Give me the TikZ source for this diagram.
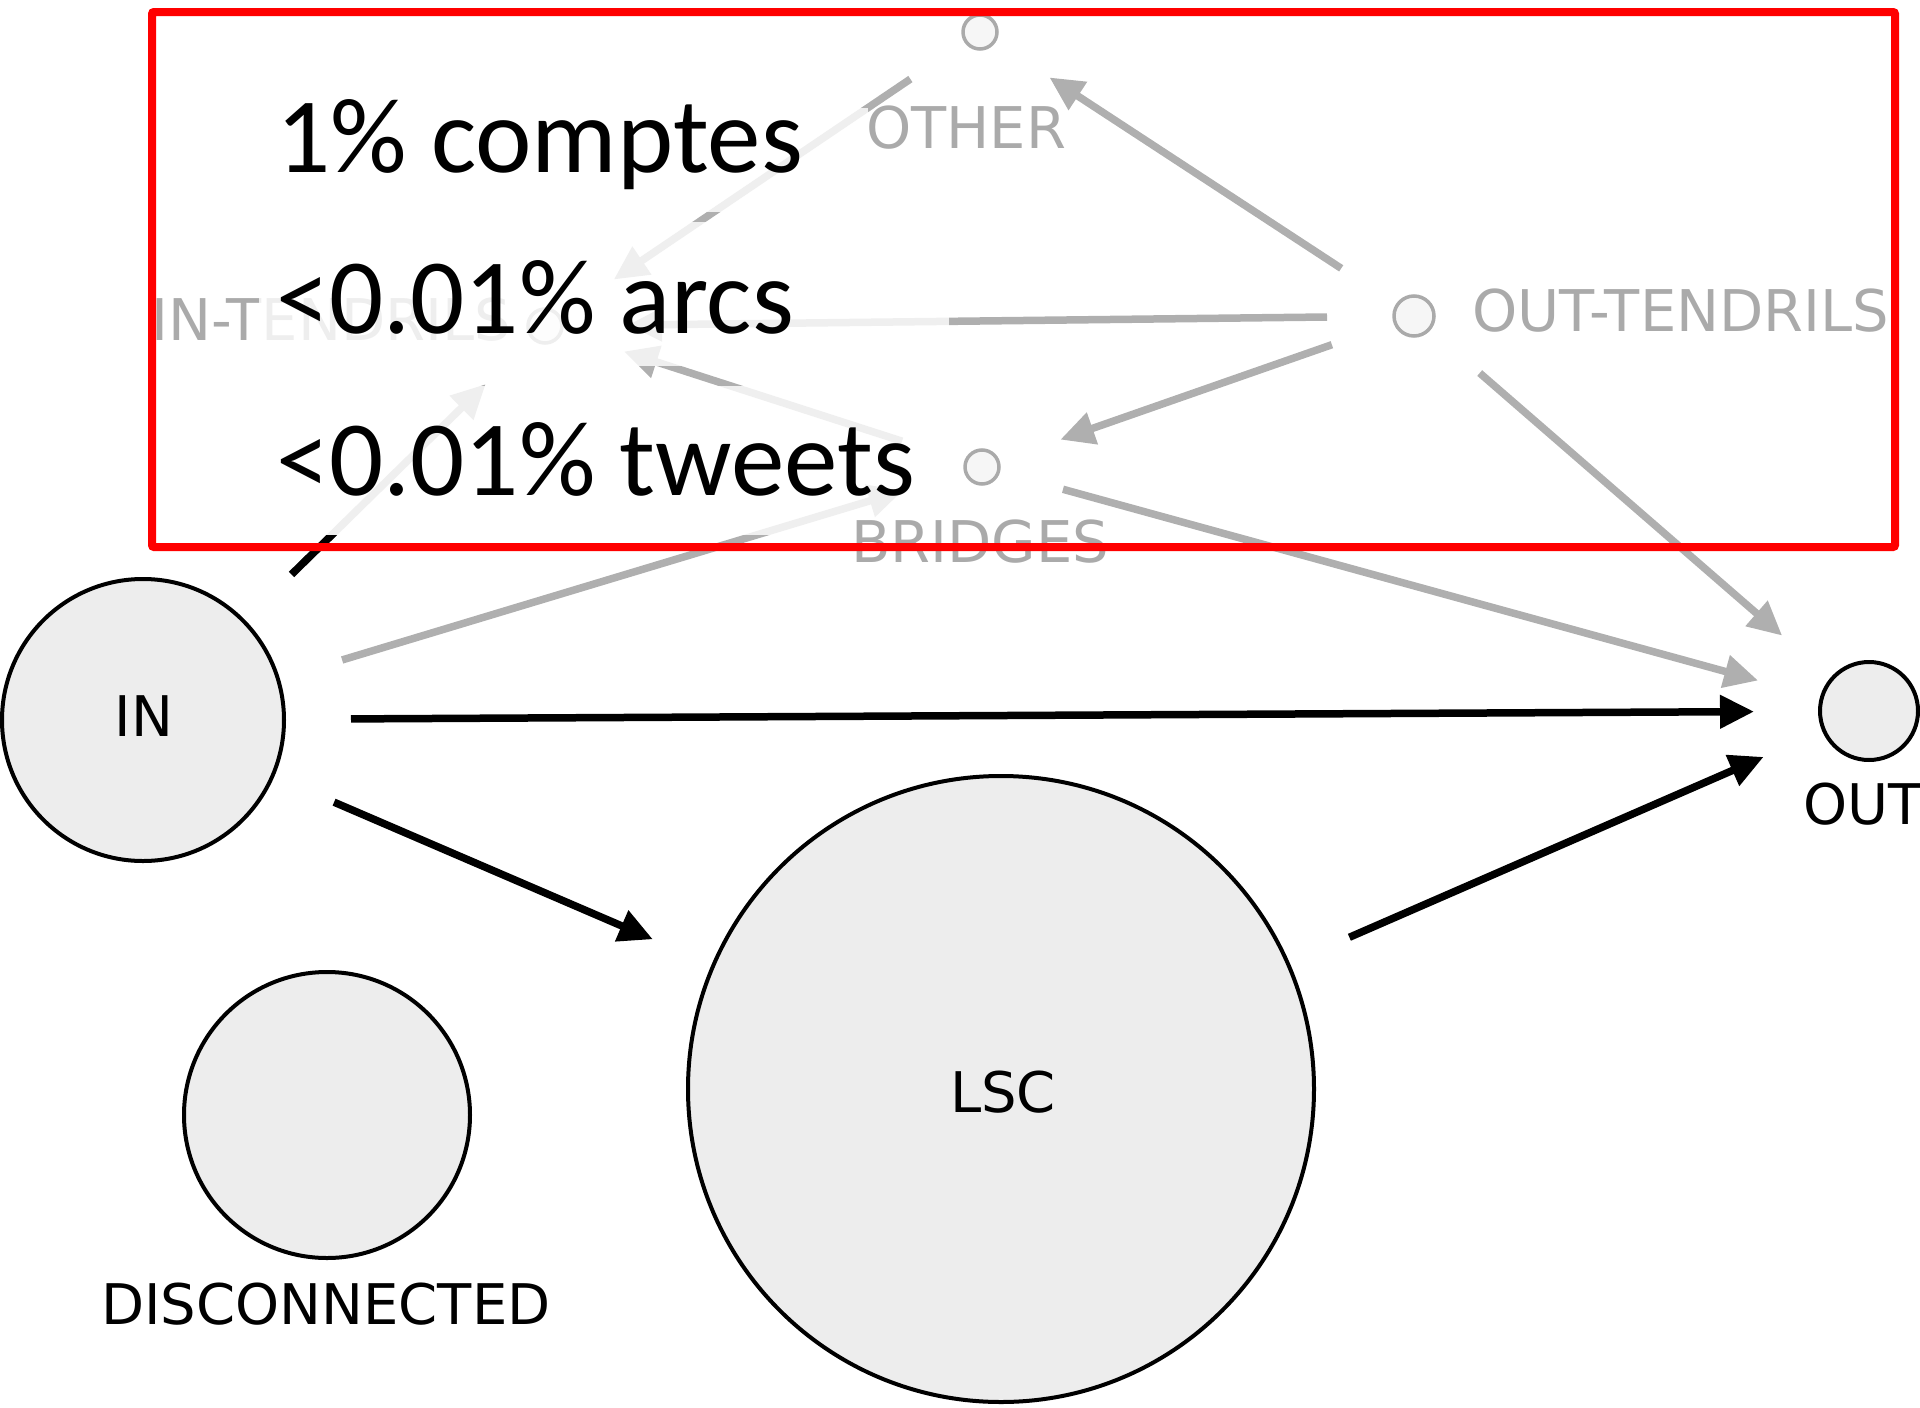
\documentclass[tikz,border=0pt]{standalone}
\usepackage{fontspec}
\usetikzlibrary{arrows.meta}
\newfontfamily\labfont{DejaVu Sans}
\newfontfamily\calfont{Carlito}
\definecolor{edgegray}{HTML}{AFAFAF}
\definecolor{txtgray}{HTML}{AAAAAA}
\definecolor{bigfill}{HTML}{EDEDED}
\definecolor{smallfill}{HTML}{F6F6F6}
\definecolor{boxred}{HTML}{FF0000}
\tikzset{
  bignode/.style={circle, draw=black, fill=bigfill, line width=4pt, inner sep=0pt, outer sep=0pt, minimum size=#1},
  smallnode/.style={circle, draw=txtgray, fill=smallfill, line width=3.5pt, inner sep=0pt, outer sep=0pt, minimum size=#1},
  edgebase/.style={line width=7.5pt, shorten <=67pt, shorten >=66pt, -{Triangle[length=34pt,width=32pt]}},
  gedge/.style={edgebase, color=edgegray},
  bedge/.style={edgebase, color=black},
  blabel/.style={font=\labfont\fontsize{56}{60}\selectfont, text=black, inner sep=0pt},
  glabel/.style={font=\labfont\fontsize{57.5}{60}\selectfont, text=txtgray, inner sep=0pt},
  bigtext/.style={font=\calfont\fontsize{107}{110}\selectfont, text=black, inner sep=0pt, anchor=base west},
  fadebox/.style={fill=white, opacity=0.8},
  redframe/.style={draw=boxred, line width=8pt, rounded corners=2pt},
}
\begin{document}
\begin{tikzpicture}[x=1pt,y=-1pt]
\useasboundingbox (0,0) rectangle (1920,1408);
% nodes
\node[bignode=282pt] (IN) at (143,720) {};
\node[bignode=286pt] (DISC) at (327,1115) {};
\node[bignode=626pt] (LSC) at (1001,1089) {};
\node[bignode=98pt] (OUT) at (1869,711) {};
\node[smallnode=40pt] (OT) at (1414,316) {};
\node[smallnode=34pt] (OTHER) at (980,32) {};
\node[smallnode=34pt] (BR) at (982,467) {};
\node[smallnode=34pt] (INT) at (545,326) {};
% labels
\node[blabel, anchor=base] (INl) at (144,736) {IN};
\node[blabel, anchor=base] (LSCl) at (1003,1112) {LSC};
\node[blabel, anchor=base] (DISCl) at (326,1324) {DISCONNECTED};
\node[blabel, anchor=base] (OUTl) at (1863,824) {OUT};
\node[glabel, anchor=base west] (OTHERl) at (866,148) {OTHER};
\node[glabel, anchor=base west] (OTl) at (1472,331) {OUT-TENDRILS};
\node[glabel, anchor=base west] (INTl) at (151,340) {IN-TENDRILS};
% edges
\draw[gedge] (OT) -- (OTHER);
\draw[gedge] (OT) -- (INT);
\draw[gedge] (OT) -- (BR);
\draw[gedge] (OT) -- (OUT);
\draw[gedge] (BR) -- (OUT);
\draw[gedge] (BR) -- (INT);
\draw[gedge] (IN) -- (BR);
\draw[gedge] (OTHER) -- (INT);
\draw[gedge] (IN) -- (INT);
\begin{scope}
  \clip (0,535) rectangle (1920,1408);
  \draw[bedge] (IN) -- (INT);
\end{scope}
\draw[bedge] (IN) -- (OUT);
\draw[bedge] (IN) -- (LSC);
\draw[bedge] (LSC) -- (OUT);
% fading text backgrounds
\fill[fadebox] (259,108) rectangle (868,212);
\fill[fadebox] (259,222) rectangle (949,366);
\fill[fadebox] (259,386) rectangle (940,535);
% overlay text
\node[bigtext] (t1) at (276,172) {1\% comptes};
\node[bigtext] (t2) at (276,333) {<0.01\% arcs};
\node[bigtext] (t3) at (276,495) {<0.01\% tweets};
\node[glabel, anchor=base west] (BRl) at (851,562) {BRIDGES};
% red frame
\draw[redframe] (152,12) rectangle (1895,547);
\end{tikzpicture}
\end{document}
